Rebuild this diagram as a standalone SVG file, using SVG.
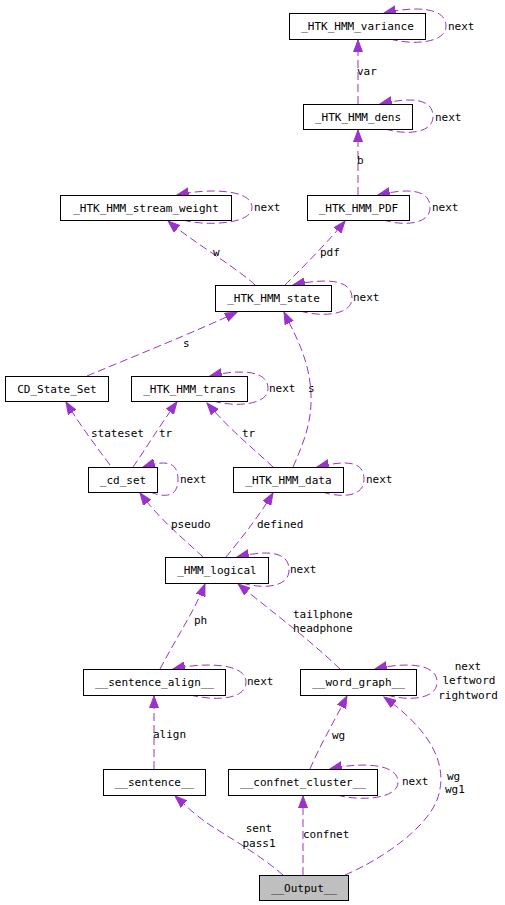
<svg xmlns="http://www.w3.org/2000/svg" width="505" height="905" viewBox="0 0 505 905">
<style>
text{font-family:"DejaVu Sans Mono","Liberation Mono",monospace;font-size:11px;fill:#000}
.n rect{fill:#fff;stroke:#000;stroke-width:1}
.n text{text-anchor:middle}
.e path{fill:none;stroke:#9a32cd;stroke-width:1;stroke-dasharray:8,4;marker-end:url(#a)}
.m{text-anchor:middle}
</style>
<defs>
<marker id="a" markerUnits="userSpaceOnUse" markerWidth="13" markerHeight="10" refX="12" refY="5" orient="auto">
<path d="M0,0.5 L12,5 L0,9.5 z" fill="#9a32cd" stroke="#9a32cd" stroke-width="1"/>
</marker>
</defs>
<rect width="505" height="905" fill="#fff"/>
<g id="edges" class="e">
<path d="M358,104 L358,40"/>
<path d="M358,195 L358,130"/>
<path d="M255,285 C240,270 190,240 168,221"/>
<path d="M285,285 C300,270 330,240 345,221"/>
<path d="M87,376 C120,362 200,330 237,312"/>
<path d="M293,467 C305,440 312,420 311,395 C310,360 295,335 284,312"/>
<path d="M110,465 C95,445 80,425 66,402"/>
<path d="M133,467 C145,450 160,425 177,402"/>
<path d="M273,467 C255,450 230,430 207,403"/>
<path d="M203,557 C185,540 160,520 140,493"/>
<path d="M226,557 C240,540 260,515 273,493"/>
<path d="M160,669 C175,640 195,610 205,584"/>
<path d="M340,669 C310,640 270,610 238,584"/>
<path d="M154,769 L154,696"/>
<path d="M310,769 C320,745 335,720 347,696"/>
<path d="M283,875 C260,855 230,838 210,825 C195,815 185,805 175,796"/>
<path d="M303,875 L303,796"/>
<path d="M345,875 C380,860 425,830 437,800 C450,765 430,730 384,697"/>
<path d="M390,39 C410,45 446,44 446,26 C446,7 415,6 384,13"/>
<path d="M385,129 C405,135 433,134 433,116.5 C433,98 410,97 380,104"/>
<path d="M383,220 C403,226 430,225 430,207.5 C430,189 408,188 378,195"/>
<path d="M183,220 C203,226 252,225 252,207.5 C252,189 208,188 177,195"/>
<path d="M300,311 C320,317 352,316 352,298 C352,279 325,278 293,285"/>
<path d="M213,401 C233,407 268,406 268,388.5 C268,370 240,369 210,376"/>
<path d="M150,492 C165,498 178,497 178,479.5 C178,461 165,460 143,467"/>
<path d="M322,492 C342,498 364,497 364,479.5 C364,461 347,460 317,467"/>
<path d="M242,583 C262,589 289,588 289,570 C289,551 267,550 237,557"/>
<path d="M190,695 C215,701 246,700 246,682 C246,663 205,662 173,669"/>
<path d="M387,695 C407,701 437,700 437,682 C437,663 405,662 375,669"/>
<path d="M337,795 C357,801 398,800 398,782 C398,763 360,762 330,769"/>
</g>
<g id="labels">
<text x="357" y="75">var</text>
<text x="357" y="164">b</text>
<text x="213" y="256">w</text>
<text x="320" y="256">pdf</text>
<text x="183" y="347">s</text>
<text x="308" y="392">s</text>
<text x="91" y="437">stateset</text>
<text x="159" y="437">tr</text>
<text x="242" y="437">tr</text>
<text x="171" y="528">pseudo</text>
<text x="257" y="528">defined</text>
<text x="194" y="624">ph</text>
<text x="293" y="618">tailphone</text>
<text x="293" y="632">headphone</text>
<text x="153" y="738">align</text>
<text x="332" y="739">wg</text>
<text class="m" x="259" y="832">sent</text>
<text class="m" x="259" y="847">pass1</text>
<text x="303" y="838">confnet</text>
<text x="447" y="780">wg</text>
<text x="445" y="793">wg1</text>
<text x="448" y="30">next</text>
<text x="435" y="121">next</text>
<text x="432" y="211">next</text>
<text x="254" y="211">next</text>
<text x="353" y="301">next</text>
<text x="269" y="392">next</text>
<text x="180" y="483">next</text>
<text x="366" y="483">next</text>
<text x="290" y="573">next</text>
<text x="247" y="685">next</text>
<text class="m" x="468" y="670">next</text>
<text class="m" x="469" y="684">leftword</text>
<text class="m" x="468" y="699">rightword</text>
<text x="402" y="785">next</text>
</g>
<g id="variance" class="n"><rect x="289.5" y="13.5" width="136" height="26"/><text x="357.5" y="30">_HTK_HMM_variance</text></g>
<g id="dens" class="n"><rect x="303.5" y="104.5" width="109" height="25"/><text x="358" y="121">_HTK_HMM_dens</text></g>
<g id="pdf" class="n"><rect x="307.5" y="195.5" width="102" height="25"/><text x="358.5" y="212">_HTK_HMM_PDF</text></g>
<g id="stream_weight" class="n"><rect x="60.5" y="195.5" width="171" height="25"/><text x="146" y="212">_HTK_HMM_stream_weight</text></g>
<g id="state" class="n"><rect x="215.5" y="285.5" width="116" height="26"/><text x="273.5" y="302">_HTK_HMM_state</text></g>
<g id="cd_state_set" class="n"><rect x="5.5" y="376.5" width="103" height="25"/><text x="57" y="393">CD_State_Set</text></g>
<g id="trans" class="n"><rect x="131.5" y="376.5" width="116" height="25"/><text x="189.5" y="393">_HTK_HMM_trans</text></g>
<g id="cd_set" class="n"><rect x="88.5" y="467.5" width="69" height="25"/><text x="123" y="484">_cd_set</text></g>
<g id="data" class="n"><rect x="233.5" y="467.5" width="110" height="25"/><text x="288.5" y="484">_HTK_HMM_data</text></g>
<g id="logical" class="n"><rect x="165.5" y="557.5" width="103" height="26"/><text x="217" y="574">_HMM_logical</text></g>
<g id="sentence_align" class="n"><rect x="83.5" y="669.5" width="142" height="26"/><text x="154.5" y="686">__sentence_align__</text></g>
<g id="word_graph" class="n"><rect x="300.5" y="669.5" width="116" height="26"/><text x="358.5" y="686">__word_graph__</text></g>
<g id="sentence" class="n"><rect x="103.5" y="769.5" width="102" height="26"/><text x="154.5" y="786">__sentence__</text></g>
<g id="confnet_cluster" class="n"><rect x="228.5" y="769.5" width="149" height="26"/><text x="303" y="786">__confnet_cluster__</text></g>
<g id="output" class="n"><rect x="259.5" y="875.5" width="89" height="25" style="fill:#bfbfbf"/><text x="304" y="892">__Output__</text></g>
</svg>
